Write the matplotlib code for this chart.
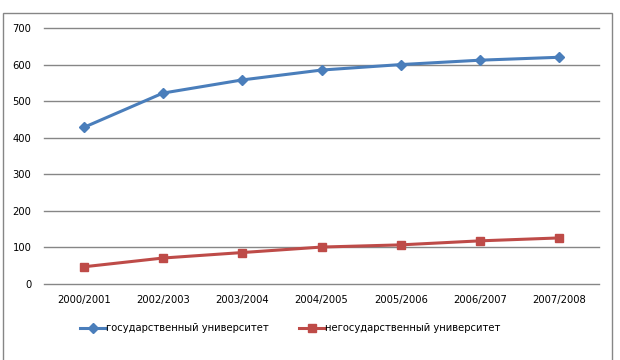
import matplotlib.pyplot as plt
from matplotlib.patches import Rectangle

years = ['2000/2001', '2002/2003', '2003/2004', '2004/2005', '2005/2006', '2006/2007', '2007/2008']
gos = [428, 522, 558, 585, 600, 612, 620]
negos = [47, 71, 86, 101, 107, 118, 126]
names = ['государственный университет', 'негосударственный университет']

blue = '#4a7ebb'
red = '#be4b48'

fig = plt.figure(figsize=(6.2, 3.6), dpi=100)
fig.patches.append(Rectangle((3 / 620, -0.05), 609 / 620, 1.05 - 13 / 360,
                             transform=fig.transFigure, fill=False,
                             edgecolor='#868686', linewidth=1))
ax = fig.add_axes([44 / 620, 1 - 284 / 360, 555 / 620, 256 / 360])

x = range(len(years))
ax.plot(x, gos, color=blue, lw=2.2, marker='D', ms=5, label=names[0], clip_on=False)
ax.plot(x, negos, color=red, lw=2.2, marker='s', ms=6, label=names[1], clip_on=False)

ax.set_xlim(-0.5, len(years) - 0.5)
ax.set_ylim(0, 700)
ax.set_yticks(range(0, 701, 100))
ax.set_xticks(list(x))
ax.set_xticklabels(years)
ax.yaxis.grid(True, color='#868686', lw=1)
for gl in ax.get_ygridlines():
    gl.set_clip_on(False)
ax.set_axisbelow(True)
for s in ax.spines.values():
    s.set_visible(False)
ax.tick_params(length=0, labelsize=7.2, colors='black')
ax.tick_params(axis='y', pad=9)
ax.tick_params(axis='x', pad=8)

fig.legend(loc='center', bbox_to_anchor=(290 / 620, 1 - 328 / 360), ncol=2,
           frameon=False, fontsize=7.2, handlelength=2.6, handletextpad=0,
           columnspacing=3)

fig.savefig('out.png', dpi=100)
